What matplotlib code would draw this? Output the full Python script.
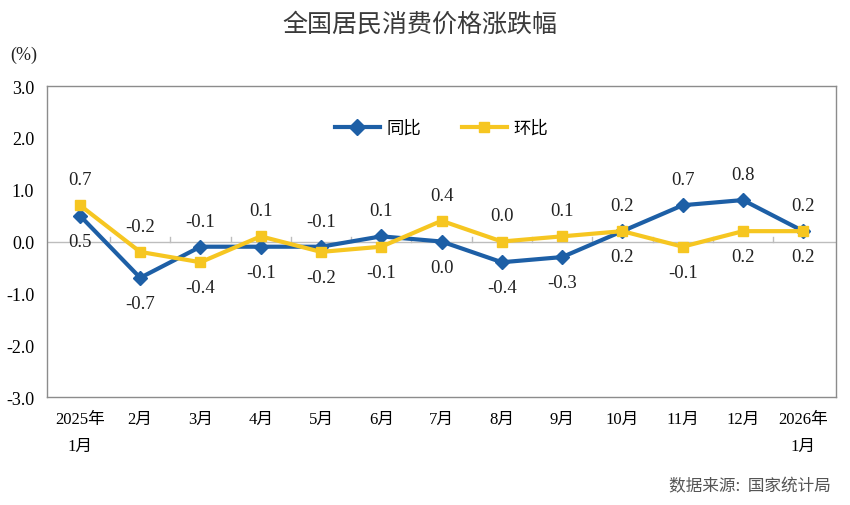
import matplotlib
matplotlib.use("Agg")
import matplotlib.pyplot as plt

categories = ["2025年\n1月", "2月", "3月", "4月", "5月", "6月", "7月", "8月", "9月",
              "10月", "11月", "12月", "2026年\n1月"]
yoy = [0.5, -0.7, -0.1, -0.1, -0.1, 0.1, 0.0, -0.4, -0.3, 0.2, 0.7, 0.8, 0.2]   # 同比
mom = [0.7, -0.2, -0.4, 0.1, -0.2, -0.1, 0.4, 0.0, 0.1, 0.2, -0.1, 0.2, 0.2]    # 环比
yticks = [3.0, 2.0, 1.0, 0.0, -1.0, -2.0, -3.0]

# label placement: +1 above, -1 below
yoy_pos = [-1, -1, 1, -1, 1, 1, -1, -1, -1, -1, 1, 1, 1]
mom_pos = [1, 1, -1, 1, -1, -1, 1, 1, 1, 1, -1, -1, -1]

serif = ["Liberation Serif", "Noto Sans CJK SC"]
blue = "#1d5fa6"
yellow = "#f6c621"

fig = plt.figure(figsize=(8.5, 5.06), dpi=100)
ax = fig.add_axes([0.055, 0.2134, 0.929, 0.6146])
x = list(range(len(categories)))

ax.axhline(0, color="#bdbdbd", lw=1.0, zorder=1)
for k in range(len(categories) - 1):
    ax.plot([k + 0.5, k + 0.5], [0, 0.09], color="#bdbdbd", lw=1.0, zorder=1)

ax.plot(x, yoy, color=blue, lw=3.0, marker="D", ms=7, label="同比", zorder=3)
ax.plot(x, mom, color=yellow, lw=3.0, marker="s", ms=7, label="环比", zorder=4)

for xi, v, p in zip(x, yoy, yoy_pos):
    ax.annotate(f"{v:.1f}", (xi, v), xytext=(0, 18.5 * p), textcoords="offset points",
                ha="center", va="center", fontsize=13.5, family=serif, color="#222222")
for xi, v, p in zip(x, mom, mom_pos):
    ax.annotate(f"{v:.1f}", (xi, v), xytext=(0, 18.5 * p), textcoords="offset points",
                ha="center", va="center", fontsize=13.5, family=serif, color="#222222")

ax.set_xlim(-0.55, len(categories) - 0.45)
ax.set_ylim(-3.0, 3.0)
ax.set_yticks(yticks)
ax.set_yticklabels([f"{t:.1f}" for t in yticks], family=serif, fontsize=13)
ax.set_xticks(x)
ax.set_xticklabels(categories, family=serif, fontsize=12, linespacing=1.95)
ax.tick_params(axis="both", length=0)
ax.tick_params(axis="x", pad=10)
ax.tick_params(axis="y", pad=9)
for s in ax.spines.values():
    s.set_color("#8c8c8c")
    s.set_linewidth(1.0)

leg = ax.legend(loc="upper center", bbox_to_anchor=(0.5, 0.94), ncol=2, frameon=False,
                prop={"family": serif, "size": 12.5}, handlelength=2.6, columnspacing=2.3,
                handletextpad=0.4, markerscale=1.1)

fig.text(0.494, 0.952, "全国居民消费价格涨跌幅", ha="center", va="center",
         fontsize=18, family=["Noto Sans CJK SC"], color="#3a3a3a", weight="light")
fig.text(0.028, 0.89, "(%)", ha="center", va="center", fontsize=13, family=serif, color="#222222")
fig.text(0.977, 0.038, "数据来源:  国家统计局", ha="right", va="center", fontsize=12,
         family=["Noto Sans CJK SC"], style="italic", color="#555555")

fig.savefig("out.png", dpi=100)
